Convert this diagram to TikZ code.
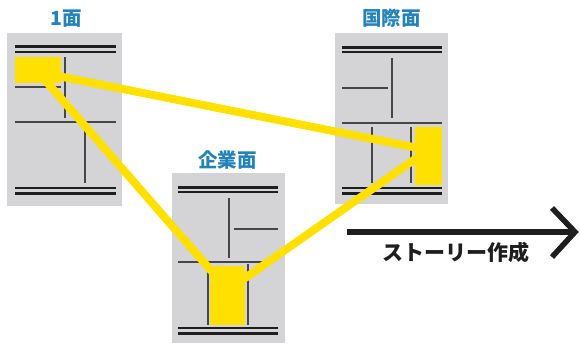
\documentclass[tikz,border=0pt]{standalone}
\usepackage{fontspec}
\newfontfamily\jp{Noto Sans CJK JP}
\definecolor{pagegray}{RGB}{212,212,214}
\definecolor{titleblue}{RGB}{36,132,186}
\definecolor{hiyellow}{RGB}{255,224,0}
\definecolor{ink}{RGB}{30,30,30}
\definecolor{rule}{RGB}{70,70,72}
\tikzset{
  page/.style={fill=pagegray},
  thickrule/.style={draw=ink,line width=3pt},
  thinrule/.style={draw=ink,line width=1.6pt},
  col/.style={draw=rule,line width=1.1pt},
  hibox/.style={fill=hiyellow,inner sep=0pt,draw=none},
  yline/.style={draw=hiyellow,line width=8pt},
  ptitle/.style={font=\jp\bfseries\fontsize{19.5}{19.5}\selectfont,text=titleblue,inner sep=0pt},
  arrowtext/.style={font=\jp\bfseries\fontsize{21}{21}\selectfont,text=ink,inner sep=0pt},
  storyline/.style={draw=ink,line width=5.5pt,miter limit=10}
}
\begin{document}
\begin{tikzpicture}[x=1pt,y=-1pt]
\useasboundingbox (0,0) rectangle (580,343);
% pages
\fill[page] (7,33) rectangle (122,206);
\fill[page] (172,173) rectangle (285,343);
\fill[page] (335,33) rectangle (448,204);
% titles
\node[ptitle] (t1) at (66,19) {1面};
\node[ptitle] (t2) at (227.5,160) {企業面};
\node[ptitle] (t3) at (391.5,18) {国際面};
% page 1 content
\draw[thickrule] (15,46) -- (116,46);
\draw[thinrule] (15,52) -- (116,52);
\draw[col] (15,87) -- (61,87);
\draw[col] (65,57) -- (65,118);
\draw[col] (15,122) -- (116,122);
\draw[col] (85,122) -- (85,183);
\draw[thinrule] (15,188) -- (116,188);
\draw[thickrule] (15,193) -- (116,193);
% page 2 content
\draw[thickrule] (178,187) -- (278,187);
\draw[thinrule] (178,192) -- (278,192);
\draw[col] (229,198) -- (229,258);
\draw[col] (234,229) -- (278,229);
\draw[col] (178,262) -- (267,262);
\draw[col] (208,264) -- (208,325);
\draw[col] (248,264) -- (248,325);
\draw[thinrule] (178,328) -- (278,328);
\draw[thickrule] (178,333) -- (278,333);
% page 3 content
\draw[thickrule] (342,47) -- (442,47);
\draw[thinrule] (342,52) -- (442,52);
\draw[col] (392,58) -- (392,118);
\draw[col] (342,88) -- (388,88);
\draw[col] (342,123) -- (442,123);
\draw[col] (372,127) -- (372,183);
\draw[col] (411,127) -- (411,183);
\draw[thinrule] (342,188) -- (442,188);
\draw[thickrule] (342,193) -- (442,193);
% yellow links
\coordinate (ya) at (38,72);
\coordinate (yb) at (428,150);
\coordinate (yc) at (228,290);
\draw[yline] (ya) -- (yb);
\draw[yline] (ya) -- (yc);
\draw[yline] (yc) -- (yb);
% yellow boxes
\node[hibox,minimum width=46pt,minimum height=26pt] (h1) at (38,70) {};
\node[hibox,minimum width=35pt,minimum height=59pt] (h2) at (227.5,295.5) {};
\node[hibox,minimum width=27pt,minimum height=58pt] (h3) at (428.5,156) {};
% story arrow
\coordinate (as) at (347,232);
\coordinate (ae) at (575,232);
\coordinate (aup) at (552,208);
\coordinate (adn) at (552,257);
\draw[storyline] (as) -- (ae);
\draw[storyline] (aup) -- (ae) -- (adn);
\node[arrowtext] (story) at (456,252.5) {ストーリー作成};
\end{tikzpicture}
\end{document}
